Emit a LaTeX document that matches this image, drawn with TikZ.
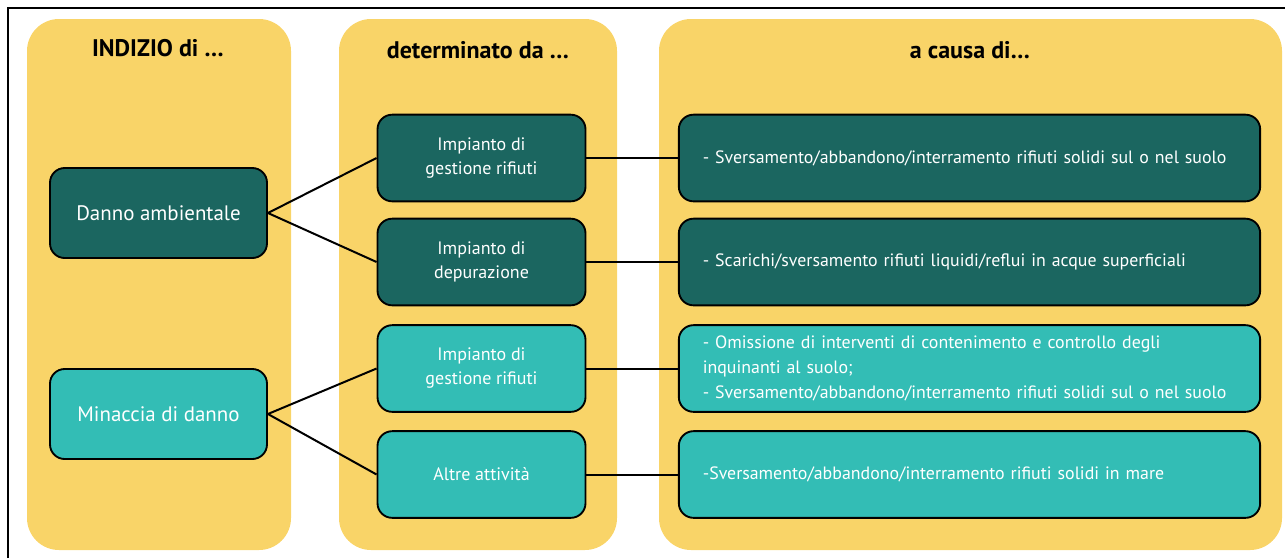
\documentclass[tikz,border=0pt]{standalone}
\usepackage{fontspec}
\setmainfont{PT Sans}
\definecolor{giallo}{HTML}{F9D468}
\definecolor{tealscuro}{HTML}{1B6660}
\definecolor{tealchiaro}{HTML}{33BDB5}
\tikzset{
  colonna/.style={fill=giallo, rounded corners=24pt},
  titolo/.style={font=\bfseries\fontsize{18}{20}\selectfont},
  scatola/.style={draw=black, line width=1.4pt, rounded corners=11pt, text=white,
    align=center, inner sep=0pt, font=\fontsize{13.5}{18}\selectfont},
  indizio/.style={scatola, minimum width=162.75pt, minimum height=67.5pt,
    font=\fontsize{15.7}{18}\selectfont},
  fonte/.style={scatola, minimum width=156pt, minimum height=65pt},
  causa/.style={scatola, minimum width=436pt, minimum height=65pt, align=left,
    text width=400pt, inner xsep=18pt, font=\fontsize{13.4}{18.5}\selectfont},
  legame/.style={line width=1.5pt},
}
\begin{document}
\begin{tikzpicture}[x=0.75pt,y=-0.75pt]
  \useasboundingbox (0,0) rectangle (1285,558);
  \draw[line width=1.5pt] (8,558) -- (8,8) -- (1285,8);

  % colonne
  \fill[colonna] (27,19) rectangle (291,550);
  \fill[colonna] (339,19) rectangle (617,550);
  \fill[colonna] (659,19) rectangle (1282,550);

  \node[titolo] (t1) at (158,48) {INDIZIO di \dots};
  \node[titolo] (t2) at (478,50) {determinato da \dots};
  \node[titolo] (t3) at (970,50) {a causa di\dots};

  % indizi
  \node[indizio, fill=tealscuro] (danno) at (158.5,213) {Danno ambientale};
  \node[indizio, fill=tealchiaro] (minaccia) at (158.5,414) {Minaccia di danno};

  % impianti
  \node[fonte, fill=tealscuro] (imp1) at (481.5,158) {Impianto di\\gestione rifiuti};
  \node[fonte, fill=tealscuro] (imp2) at (481.5,262) {Impianto di\\depurazione};
  \node[fonte, fill=tealchiaro] (imp3) at (481.5,368.5) {Impianto di\\gestione rifiuti};
  \node[fonte, fill=tealchiaro] (imp4) at (481.5,474.5) {Altre attività};

  % cause
  \node[causa, fill=tealscuro] (c1) at (969.5,158)
    {- Sversamento/abbandono/interramento rifiuti solidi sul o nel suolo};
  \node[causa, fill=tealscuro] (c2) at (969.5,262)
    {- Scarichi/sversamento rifiuti liquidi/reflui in acque superficiali};
  \node[causa, fill=tealchiaro] (c3) at (969.5,368.5)
    {- Omissione di interventi di contenimento e controllo degli\\inquinanti al suolo;\\- Sversamento/abbandono/interramento rifiuti solidi sul o nel suolo};
  \node[causa, fill=tealchiaro] (c4) at (969.5,474.5)
    {-Sversamento/abbandono/interramento rifiuti solidi in mare};

  \draw[legame] (danno.east) -- (imp1.west);
  \draw[legame] (danno.east) -- (imp2.west);
  \draw[legame] (minaccia.east) -- (imp3.west);
  \draw[legame] (minaccia.east) -- (imp4.west);
  \draw[legame] (imp1.east) -- (c1.west);
  \draw[legame] (imp2.east) -- (c2.west);
  \draw[legame] (imp3.east) -- (c3.west);
  \draw[legame] (imp4.east) -- (c4.west);
\end{tikzpicture}
\end{document}
